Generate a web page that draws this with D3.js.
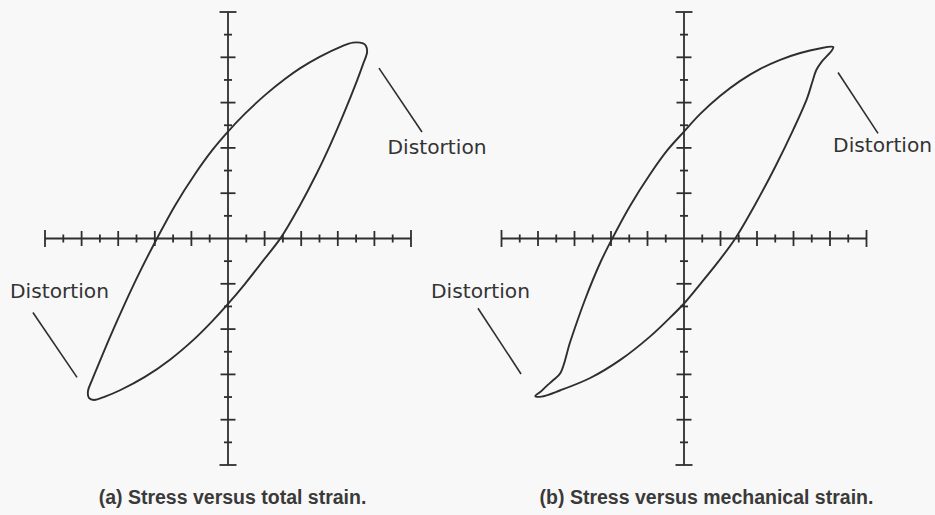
<!DOCTYPE html>
<html>
<head>
<meta charset="utf-8">
<script src="https://cdn.jsdelivr.net/npm/d3@7"></script>
<style>
  html, body { margin: 0; padding: 0; background: #f8f8f8; }
  svg { display: block; }
</style>
</head>
<body>
<svg id="chart" width="935" height="515"></svg>
<script>
// Tick positions along each axis, in division units (0 is the origin)
const tickSteps = d3.range(-10, 11);

// Hysteresis loop (a): stress vs total strain, [strain, stress] in axis divisions
const loopTotal = [
  [7.38, 8.61], [6.83, 8.65], [6.12, 8.45], [5.03, 8.03], [3.93, 7.51], [3.11, 7.04],
  [2.02, 6.33], [0.93, 5.51], [0.00, 4.72], [-0.87, 3.89], [-1.80, 2.85], [-2.90, 1.45],
  [-3.88, 0.00], [-4.81, -1.46], [-5.63, -2.86], [-6.45, -4.35], [-6.99, -5.39], [-7.43, -6.25],
  [-7.65, -6.73], [-7.60, -7.04], [-7.32, -7.13], [-6.72, -6.98], [-5.90, -6.70], [-4.54, -6.11],
  [-3.17, -5.35], [-1.80, -4.41], [-0.87, -3.66], [0.00, -2.89], [0.93, -2.00], [1.91, -0.99],
  [2.90, 0.05], [3.93, 1.46], [4.86, 2.89], [5.57, 4.10], [6.28, 5.42], [7.05, 6.97],
  [7.38, 7.70], [7.60, 8.23], [7.54, 8.50]
];

// Hysteresis loop (b): stress vs mechanical strain
const loopMechanical = [
  [8.18, 8.45], [7.36, 8.38], [6.37, 8.19], [5.27, 7.89], [4.18, 7.49], [3.08, 6.96],
  [1.99, 6.30], [0.89, 5.50], [0.00, 4.72], [-0.92, 3.89], [-1.85, 2.85], [-2.95, 1.45],
  [-3.93, 0.00], [-4.59, -1.07], [-5.41, -2.67], [-6.23, -4.55], [-6.77, -5.94], [-7.16, -6.25],
  [-7.55, -6.53], [-7.88, -6.78], [-8.15, -6.95], [-7.82, -6.98], [-6.77, -6.70], [-5.14, -6.16],
  [-3.49, -5.36], [-1.85, -4.32], [-0.86, -3.57], [0.00, -2.87], [0.89, -2.01], [1.88, -1.02],
  [2.81, 0.00], [3.90, 1.50], [5.00, 3.17], [5.99, 4.81], [6.75, 6.20], [7.03, 6.91],
  [7.25, 7.44], [7.53, 7.79], [7.86, 8.08], [8.08, 8.28]
];

// Callout labels: text, anchor in axis divisions, leader line from/to in divisions
const calloutsTotal = [
  { text: "Distortion", at: [8.72, 3.72], from: [8.25, 7.52], to: [10.6, 4.70] },
  { text: "Distortion", at: [-11.91, -2.64], from: [-10.66, -3.27], to: [-8.25, -6.13] }
];
const calloutsMechanical = [
  { text: "Distortion", at: [8.17, 3.81], from: [8.44, 7.33], to: [10.63, 4.64] },
  { text: "Distortion", at: [-13.86, -2.64], from: [-11.29, -3.08], to: [-8.93, -5.98] }
];

const captions = ["(a) Stress versus total strain.", "(b) Stress versus mechanical strain."];

const svg = d3.select("#chart");
const ink = "#2e2e2e";

function drawPanel(xRange, loop, callouts, caption, captionX) {
  const x = d3.scaleLinear().domain([-10, 10]).range(xRange);
  const y = d3.scaleLinear().domain([-10, 10]).range([465, 12]);
  const g = svg.append("g");

  // axes through the origin
  g.append("line").attr("x1", x(-10)).attr("x2", x(10)).attr("y1", y(0)).attr("y2", y(0))
    .attr("stroke", ink).attr("stroke-width", 1.8);
  g.append("line").attr("x1", x(0)).attr("x2", x(0)).attr("y1", y(-10)).attr("y2", y(10))
    .attr("stroke", ink).attr("stroke-width", 1.8);

  const tickLen = d => Math.abs(d) === 10 ? 8.5 : (d % 2 === 0 ? 7.5 : 4);
  const steps = tickSteps.filter(d => d !== 0);

  // strain ticks straddle the horizontal axis
  g.selectAll(".xt").data(steps).join("line")
    .attr("x1", d => x(d)).attr("x2", d => x(d))
    .attr("y1", d => y(0) - tickLen(d)).attr("y2", d => y(0) + tickLen(d))
    .attr("stroke", ink).attr("stroke-width", 1.8);

  // stress ticks straddle the vertical axis
  g.selectAll(".yt").data(steps).join("line")
    .attr("y1", d => y(d)).attr("y2", d => y(d))
    .attr("x1", d => x(0) - tickLen(d)).attr("x2", d => x(0) + tickLen(d))
    .attr("stroke", ink).attr("stroke-width", 1.8);

  // the loop
  const line = d3.line().x(d => x(d[0])).y(d => y(d[1]))
    .curve(d3.curveCatmullRomClosed.alpha(0.5));
  g.append("path").attr("d", line(loop))
    .attr("fill", "none").attr("stroke", ink).attr("stroke-width", 1.9)
    .attr("stroke-linejoin", "round");

  // callouts
  callouts.forEach(c => {
    g.append("line")
      .attr("x1", x(c.from[0])).attr("y1", y(c.from[1]))
      .attr("x2", x(c.to[0])).attr("y2", y(c.to[1]))
      .attr("stroke", ink).attr("stroke-width", 1.6);
    g.append("text")
      .attr("x", x(c.at[0])).attr("y", y(c.at[1]))
      .attr("font-family", "DejaVu Sans")
      .attr("font-size", 19)
      .attr("textLength", 99).attr("lengthAdjust", "spacingAndGlyphs")
      .attr("fill", "#333")
      .text(c.text);
  });

  svg.append("text")
    .attr("x", captionX).attr("y", 504)
    .attr("text-anchor", "middle")
    .attr("font-family", "Liberation Sans, Arial, sans-serif")
    .attr("font-weight", "bold")
    .attr("font-size", 19.5)
    .attr("fill", "#3a3a3a")
    .text(caption);
}

drawPanel([45, 411], loopTotal, calloutsTotal, captions[0], 232.5);
drawPanel([501.5, 866.5], loopMechanical, calloutsMechanical, captions[1], 706.5);
</script>
</body>
</html>
